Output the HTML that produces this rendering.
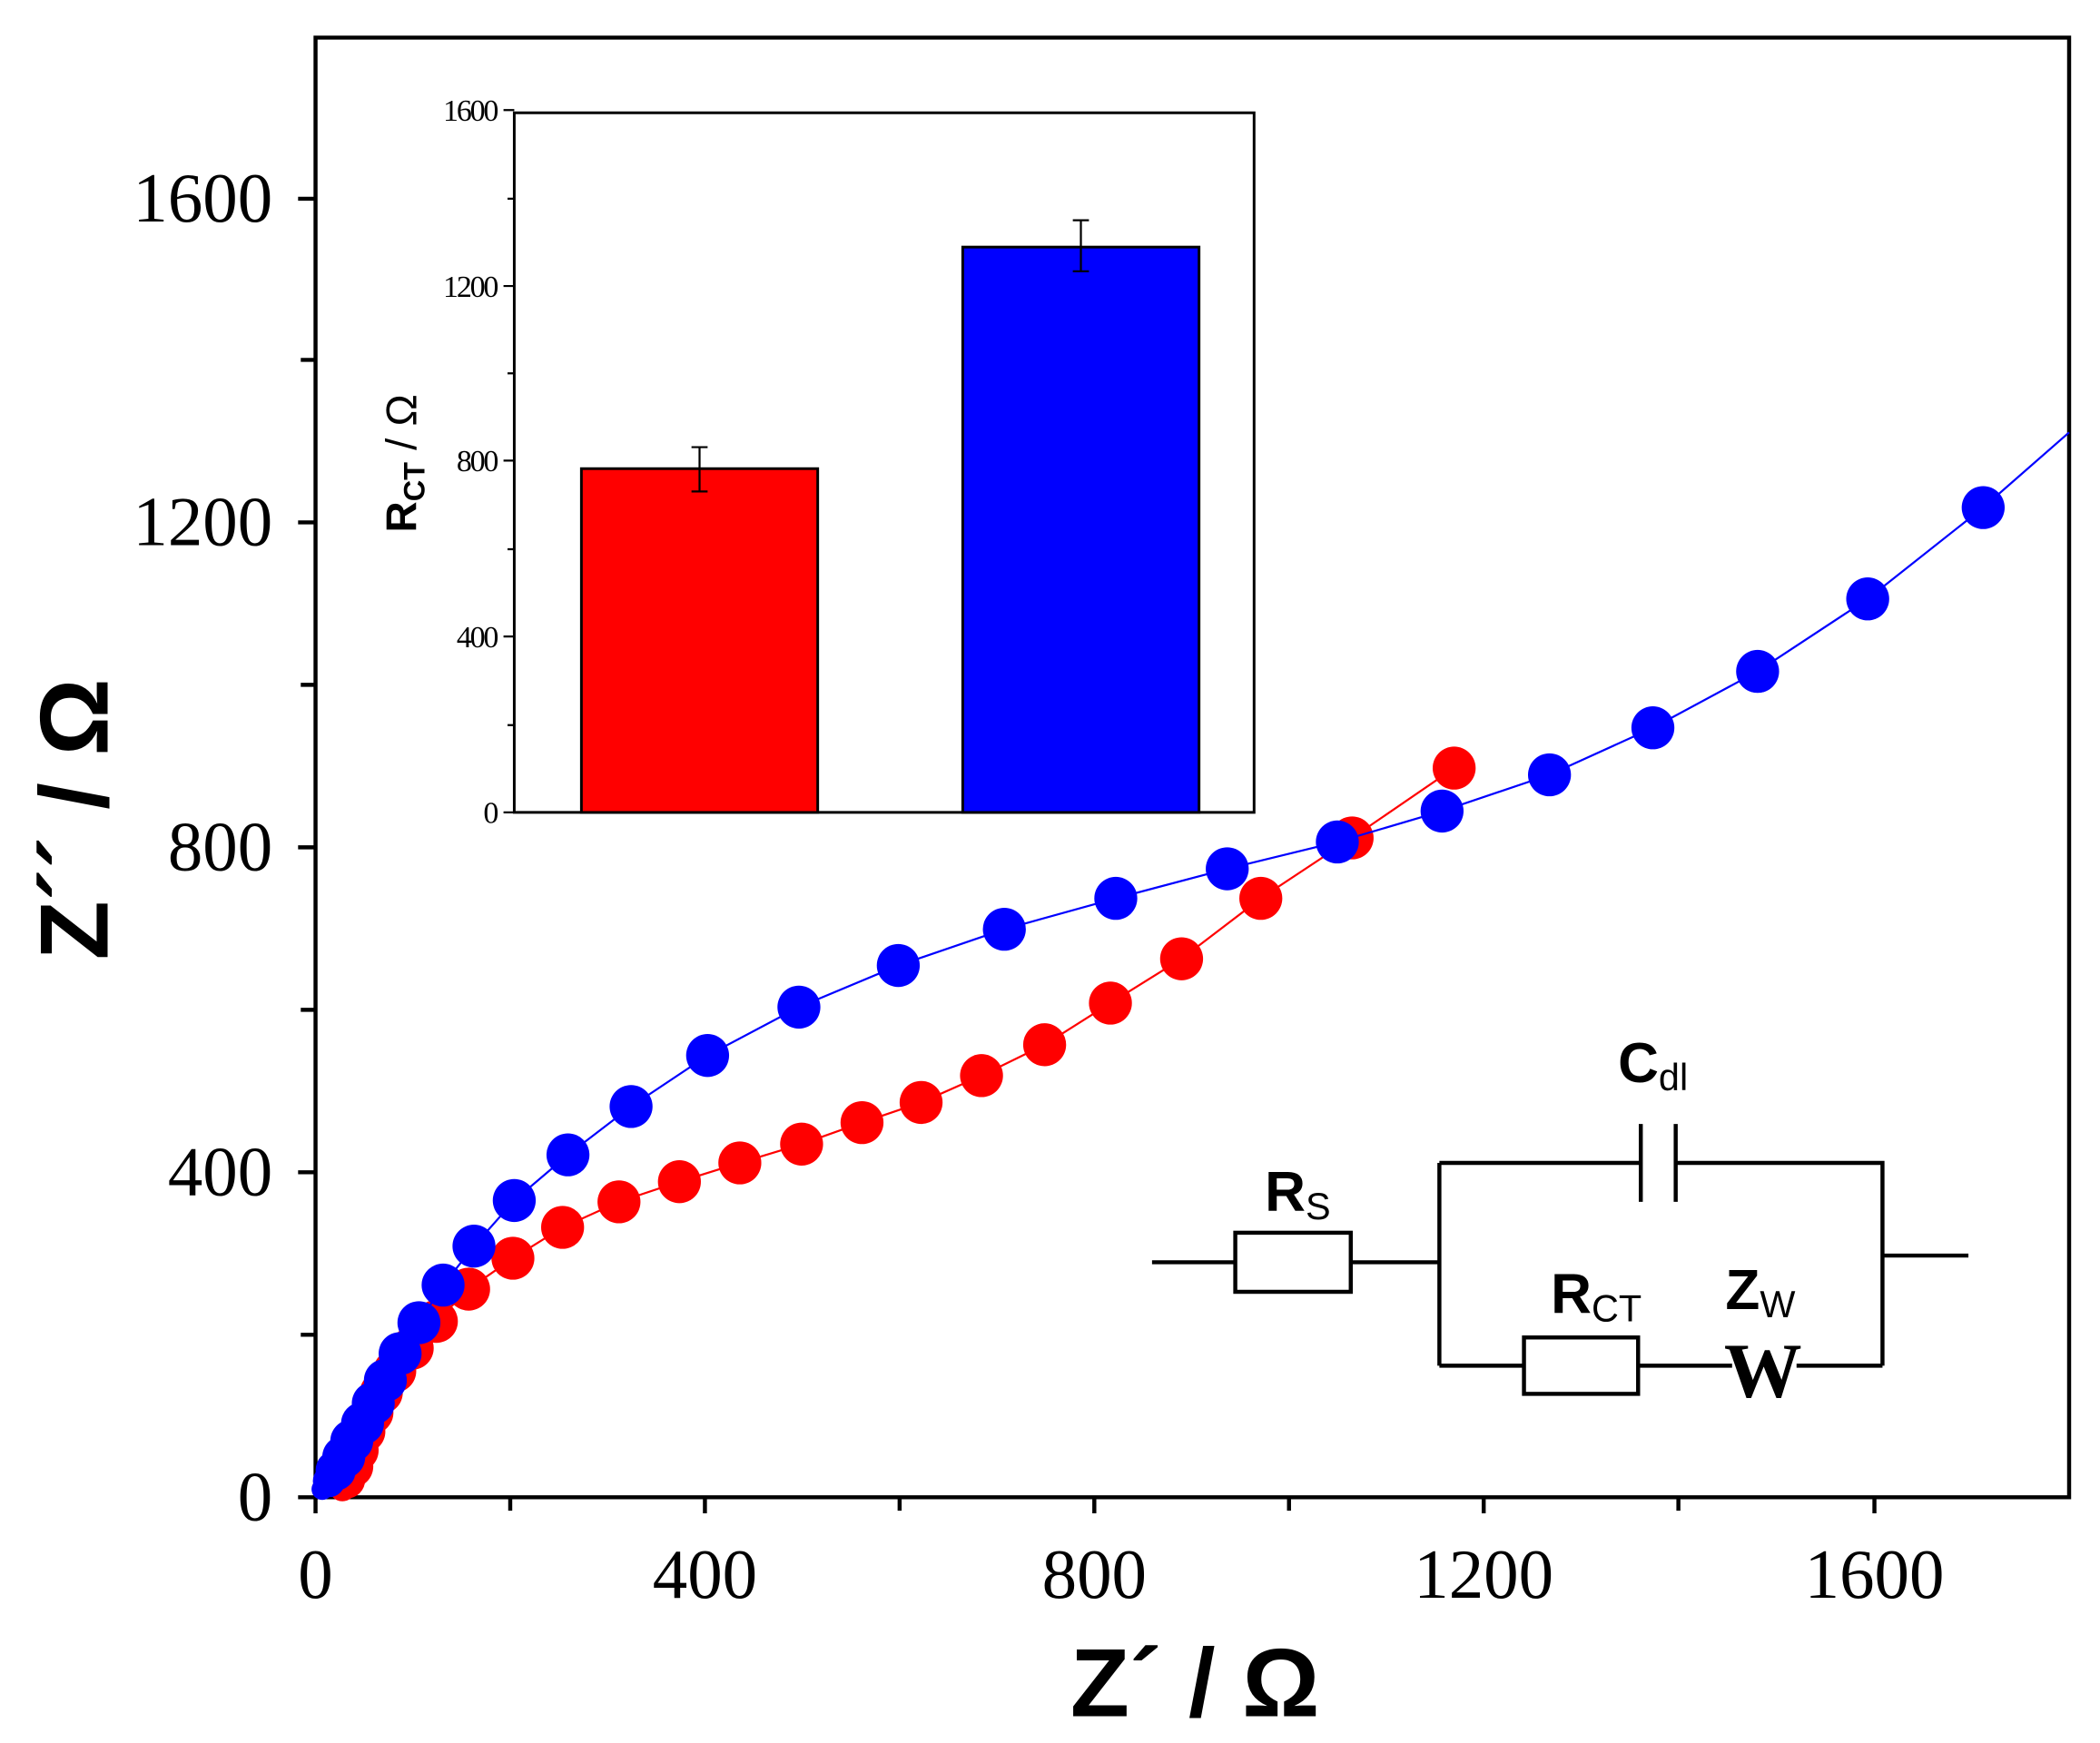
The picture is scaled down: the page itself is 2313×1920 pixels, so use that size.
<!DOCTYPE html>
<html><head><style>html,body{margin:0;padding:0;background:#fff}svg{display:block}</style></head>
<body>
<svg width="2313" height="1920" viewBox="0 0 1564 1298" preserveAspectRatio="none" xmlns="http://www.w3.org/2000/svg">
<rect width="1564" height="1298" fill="#fff"/>
<g stroke="#000" stroke-width="3" fill="none">
<path d="M235,28 V1115 H1541 V28 Z"/>
<path d="M235,1115v12M380,1115v10M525,1115v12M670,1115v10M815,1115v12M960,1115v10M1105,1115v12M1250,1115v10M1396,1115v12"/>
<path d="M235,1115h-13M235,994h-11M235,873h-13M235,752h-11M235,631h-13M235,510h-11M235,389h-13M235,268h-11M235,148h-13"/>
</g>
<g font-family="Liberation Serif, serif" font-size="52" fill="#000">
<g text-anchor="middle">
<text x="235" y="1190">0</text><text x="525" y="1190">400</text><text x="815" y="1190">800</text><text x="1105" y="1190">1200</text><text x="1396" y="1190">1600</text>
</g>
<g text-anchor="end">
<text x="203" y="1132">0</text><text x="203" y="890">400</text><text x="203" y="648">800</text><text x="203" y="406">1200</text><text x="203" y="165">1600</text>
</g>
</g>
<text x="890" y="1278" text-anchor="middle" font-family="Liberation Sans, sans-serif" font-weight="bold" font-size="72">Z´ / Ω</text>
<text transform="translate(80,610) rotate(-90)" text-anchor="middle" font-family="Liberation Sans, sans-serif" font-weight="bold" font-size="72">Z´´ / Ω</text>
<!-- inset -->
<g stroke="#000" stroke-width="1.5" fill="none">
<path d="M383,84 H934 V605 H383 Z" stroke-width="2"/>
<path d="M383,605h-8M383,540h-5M383,474h-8M383,409h-5M383,343h-8M383,278h-5M383,213h-8M383,148h-5M383,82h-8"/>
</g>
<rect x="433" y="349" width="176" height="256" fill="#f00" stroke="#000" stroke-width="2"/>
<rect x="717" y="184" width="176" height="421" fill="#00f" stroke="#000" stroke-width="2"/>
<g stroke="#000" stroke-width="1.5">
<path d="M521,333V366M515,333h12M515,366h12"/>
<path d="M805,164V202M799,164h12M799,202h12"/>
</g>
<g font-family="Liberation Serif, serif" font-size="23" text-anchor="end" letter-spacing="-1.5">
<text x="370" y="613">0</text><text x="370" y="482">400</text><text x="370" y="351">800</text><text x="370" y="221">1200</text><text x="370" y="90">1600</text>
</g>
<text transform="translate(310,345) rotate(-90)" text-anchor="middle" font-family="Liberation Sans, sans-serif" font-size="32"><tspan font-weight="bold">R</tspan><tspan font-weight="bold" font-size="22" dy="6">CT</tspan><tspan dy="-6"> / Ω</tspan></text>
<!-- data -->
<polyline fill="none" stroke="#f00" stroke-width="1.5" points="1083,572 1007,624 939,669 880,714 827,747 778,778 731,801 686,821 642,836 597,852 551,866 506,880 461,895 419,914 382,937 349,960 325,984 307,1004 294,1021 284,1037 277,1052 271,1066 266,1080 262,1092 258,1102 255,1110 252,1115"/>
<g fill="#f00">
<circle cx="1083" cy="572" r="16"/><circle cx="1007" cy="624" r="16"/><circle cx="939" cy="669" r="16"/><circle cx="880" cy="714" r="16"/><circle cx="827" cy="747" r="16"/><circle cx="778" cy="778" r="16"/><circle cx="731" cy="801" r="16"/><circle cx="686" cy="821" r="16"/><circle cx="642" cy="836" r="16"/><circle cx="597" cy="852" r="16"/><circle cx="551" cy="866" r="16"/><circle cx="506" cy="880" r="16"/><circle cx="461" cy="895" r="16"/><circle cx="419" cy="914" r="16"/><circle cx="382" cy="937" r="16"/><circle cx="349" cy="960" r="16"/><circle cx="325" cy="984" r="16"/><circle cx="307" cy="1004" r="16"/><circle cx="294" cy="1021" r="16"/><circle cx="284" cy="1037" r="16"/><circle cx="277" cy="1052" r="16"/><circle cx="271" cy="1066" r="16"/><circle cx="266" cy="1080" r="16"/><circle cx="262" cy="1092" r="16"/><circle cx="258" cy="1102" r="14"/><circle cx="255" cy="1108" r="10"/>
</g>
<polyline fill="none" stroke="#00f" stroke-width="1.5" points="1541,322 1477,378 1391,446 1309,500 1231,542 1154,577 1074,604 996,627 914,647 831,669 748,692 669,719 595,750 527,786 470,824 423,860 383,894 353,928 330,957 312,985 298,1008 287,1028 278,1045 270,1060 262,1073 256,1085 250,1095 245,1104 240,1111 237,1115"/>
<g fill="#00f">
<circle cx="1477" cy="378" r="16"/><circle cx="1391" cy="446" r="16"/><circle cx="1309" cy="500" r="16"/><circle cx="1231" cy="542" r="16"/><circle cx="1154" cy="577" r="16"/><circle cx="1074" cy="604" r="16"/><circle cx="996" cy="627" r="16"/><circle cx="914" cy="647" r="16"/><circle cx="831" cy="669" r="16"/><circle cx="748" cy="692" r="16"/><circle cx="669" cy="719" r="16"/><circle cx="595" cy="750" r="16"/><circle cx="527" cy="786" r="16"/><circle cx="470" cy="824" r="16"/><circle cx="423" cy="860" r="16"/><circle cx="383" cy="894" r="16"/><circle cx="353" cy="928" r="16"/><circle cx="330" cy="957" r="16"/><circle cx="312" cy="985" r="16"/><circle cx="298" cy="1008" r="16"/><circle cx="287" cy="1028" r="16"/><circle cx="278" cy="1045" r="16"/><circle cx="270" cy="1060" r="16"/><circle cx="262" cy="1073" r="16"/><circle cx="256" cy="1085" r="16"/><circle cx="250" cy="1095" r="15"/><circle cx="245" cy="1103" r="12"/><circle cx="240" cy="1109" r="8"/>
</g>
<!-- circuit -->
<g stroke="#000" stroke-width="3" fill="none">
<path d="M858,940H920M1006,940H1072"/>
<rect x="920" y="918" width="86" height="44"/>
<path d="M1072,866V1017M1072,866H1222M1248,866H1402V1017M1402,935H1466"/>
<path d="M1222,837V895M1248,837V895"/>
<path d="M1072,1017H1135M1220,1017H1290M1338,1017H1402"/>
<rect x="1135" y="996" width="85" height="42"/>
</g>
<g font-family="Liberation Sans, sans-serif" font-weight="bold" font-size="42">
<text x="942" y="902">R<tspan font-size="28" font-weight="normal" dy="6">S</tspan></text>
<text x="1205" y="806">C<tspan font-size="28" font-weight="normal" dy="6">dl</tspan></text>
<text x="1155" y="978">R<tspan font-size="28" font-weight="normal" dy="6">CT</tspan></text>
<text x="1285" y="975">Z<tspan font-size="28" font-weight="normal" dy="6">W</tspan></text>
</g>
<text x="1313" y="1040" text-anchor="middle" font-family="Liberation Serif, serif" font-weight="bold" font-size="58">W</text>
</svg>
</body></html>
